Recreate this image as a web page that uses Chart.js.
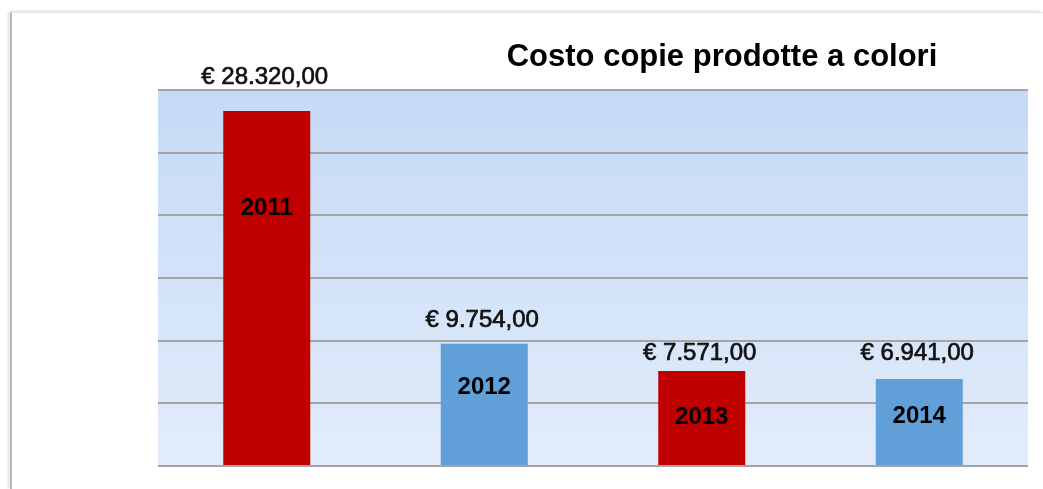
<!DOCTYPE html>
<html>
<head>
<meta charset="utf-8">
<script src="https://cdn.jsdelivr.net/npm/chart.js@4"></script>
<style>
    html, body { margin: 0; padding: 0; background: #fff; }
    #frame {
        position: absolute; left: 10px; top: 12px; right: 0; bottom: 0;
        border-left: 2px solid #b8b8b8;
        border-top: 1px solid #e4e4e4;
        box-shadow: -2px -1px 3px rgba(0, 0, 0, 0.12);
    }
    #wrap { position: absolute; left: 0; top: 0; width: 1043px; height: 489px; }
</style>
</head>
<body>
<div id="frame"></div>
<div id="wrap"><canvas id="costChart" width="1043" height="489"></canvas></div>
<script>
const years = ['2011', '2012', '2013', '2014'];
const costs = [28320, 9754, 7571, 6941];
const valueLabels = ['€ 28.320,00', '€ 9.754,00', '€ 7.571,00', '€ 6.941,00'];
const titleText = 'Costo copie prodotte a colori';

const RED = '#c00000';
const BLUE = '#609fd8';
const barColors = [RED, BLUE, RED, BLUE];

// gradient behind the plot area
const plotBackground = {
    id: 'plotBackground',
    beforeDraw(chart) {
        const { ctx, chartArea: a } = chart;
        const g = ctx.createLinearGradient(0, a.top, 0, a.bottom);
        g.addColorStop(0, '#c5daf6');
        g.addColorStop(1, '#e2ecfb');
        ctx.save();
        ctx.fillStyle = g;
        ctx.fillRect(a.left, a.top, a.right - a.left, a.bottom - a.top);
        ctx.restore();
    }
};

// title, value labels above bars and year labels inside bars
const barTexts = {
    id: 'barTexts',
    afterDatasetsDraw(chart, args, opts) {
        const { ctx } = chart;
        const meta = chart.getDatasetMeta(0);
        ctx.save();
        ctx.textAlign = 'center';
        ctx.textBaseline = 'middle';
        meta.data.forEach((bar, i) => {
            ctx.font = '24px "Liberation Sans", Arial, sans-serif';
            ctx.fillStyle = '#111';
            ctx.strokeStyle = '#111';
            ctx.lineWidth = 0.7;
            ctx.fillText(valueLabels[i], bar.x - 2, bar.y + opts.valueOffset[i]);
            ctx.strokeText(valueLabels[i], bar.x - 2, bar.y + opts.valueOffset[i]);
            ctx.font = 'bold 24px "Liberation Sans", Arial, sans-serif';
            ctx.fillStyle = '#000';
            ctx.fillText(years[i], bar.x, bar.y + opts.yearOffset[i]);
        });
        ctx.font = 'bold 31px "Liberation Sans", Arial, sans-serif';
        ctx.fillStyle = '#000';
        ctx.fillText(titleText, opts.titleX, opts.titleY);
        ctx.restore();
    }
};

const ctx = document.getElementById('costChart').getContext('2d');
new Chart(ctx, {
    type: 'bar',
    data: {
        labels: years,
        datasets: [{
            data: costs,
            backgroundColor: barColors,
            borderWidth: 0,
            categoryPercentage: 1,
            barPercentage: 0.4
        }]
    },
    options: {
        responsive: false,
        animation: false,
        layout: {
            padding: { left: 158, right: 15, top: 90, bottom: 23 }
        },
        scales: {
            x: {
                ticks: { display: false },
                grid: { display: false, drawTicks: false },
                border: { display: false }
            },
            y: {
                min: 0,
                max: 30000,
                ticks: { display: false, stepSize: 5000 },
                grid: { color: '#a4a4a4', lineWidth: 2, drawTicks: false },
                border: { display: false }
            }
        },
        plugins: {
            legend: { display: false },
            tooltip: { enabled: false },
            barTexts: {
                valueOffset: [-34, -23, -18, -26],
                yearOffset: [97, 44, 46, 37],
                titleX: 722,
                titleY: 57
            }
        }
    },
    plugins: [plotBackground, barTexts]
});
</script>
</body>
</html>
